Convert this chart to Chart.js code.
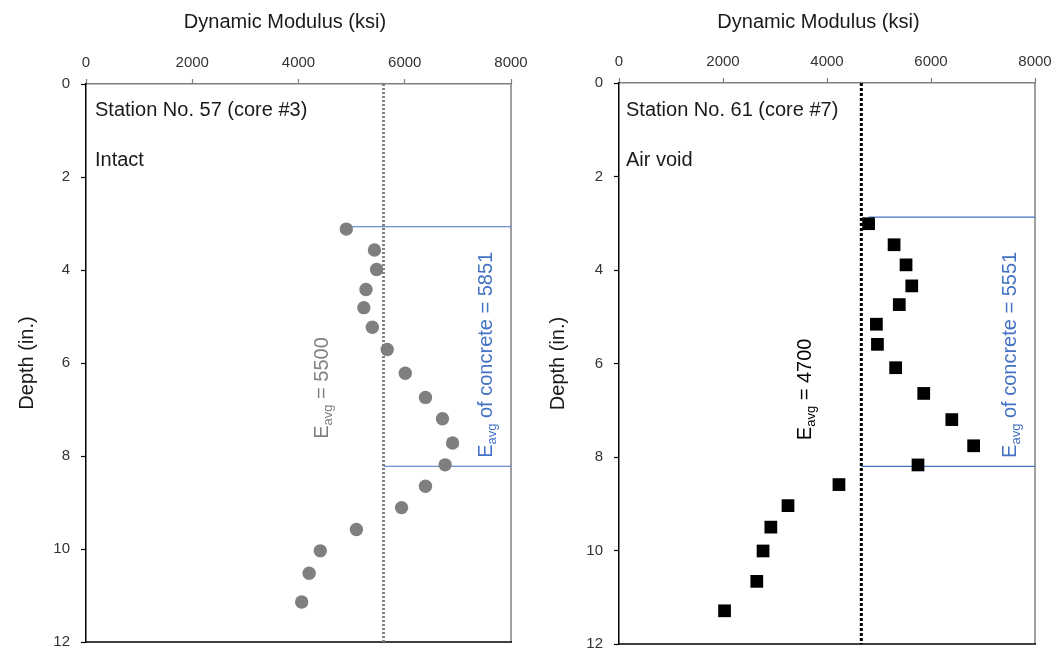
<!DOCTYPE html>
<html>
<head>
<meta charset="utf-8">
<script src="https://cdn.jsdelivr.net/npm/chart.js@4.4.1/dist/chart.umd.min.js"></script>
<style>
html, body { margin: 0; padding: 0; background: #fff; }
#wrap { position: relative; width: 1062px; height: 656px; }
canvas { position: absolute; top: 0; }
#c57 { left: 0; }
#c61 { left: 531px; }
</style>
</head>
<body>
<div id="wrap">
  <canvas id="c57" width="531" height="656"></canvas>
  <canvas id="c61" width="531" height="656"></canvas>
</div>
<script>
// --- data ---
const modulusTicks = [0, 2000, 4000, 6000, 8000];
const depthTicks = [0, 2, 4, 6, 8, 10, 12];

// Station 57 (core #3), intact
const depth57   = [3.12, 3.57, 3.99, 4.42, 4.81, 5.23, 5.71, 6.22, 6.74, 7.20, 7.72, 8.19, 8.65, 9.11, 9.58, 10.04, 10.52, 11.14];
const modulus57 = [4900, 5430, 5470, 5270, 5230, 5390, 5670, 6010, 6390, 6710, 6900, 6760, 6390, 5940, 5090, 4410, 4200, 4060];
const avgLine57 = 5600;
const concreteDepth57 = [3.07, 8.22];
const concreteFrom57  = [4900, 5600];

// Station 61 (core #7), air void
const depth61   = [3.01, 3.46, 3.89, 4.34, 4.74, 5.16, 5.59, 6.09, 6.64, 7.20, 7.76, 8.17, 8.59, 9.04, 9.50, 10.01, 10.66, 11.29];
const modulus61 = [4800, 5290, 5520, 5630, 5390, 4950, 4970, 5320, 5860, 6400, 6820, 5750, 4230, 3250, 2920, 2770, 2650, 2030];
const avgLine61 = 4660;
const concreteDepth61 = [2.87, 8.20];
const concreteFrom61  = [4800, 4660];

const FONT = "'Liberation Sans', Arial, sans-serif";
const BLUE = '#4472c4';
Chart.defaults.font.family = FONT;

// draws "E" + subscript "avg" + rest, rotated to read bottom-to-top
function drawEavg(ctx, x, y, rest, color) {
    ctx.save();
    ctx.translate(x, y);
    ctx.rotate(-Math.PI / 2);
    ctx.fillStyle = color;
    ctx.textAlign = 'left';
    ctx.textBaseline = 'alphabetic';
    ctx.font = '20px ' + FONT;
    ctx.fillText('E', 0, 0);
    let w = ctx.measureText('E').width;
    ctx.font = '13px ' + FONT;
    ctx.fillText('avg', w, 4);
    w += ctx.measureText('avg').width;
    ctx.font = '20px ' + FONT;
    ctx.fillText(rest, w, 0);
    ctx.restore();
}

function makePanel(id, p) {
    const datasets = [
        {
            data: p.modulus.map((v, i) => ({ x: v, y: p.depth[i] })),
            pointStyle: p.marker,
            pointRadius: p.radius,
            backgroundColor: p.markerColor,
            borderWidth: 0,
            order: 0
        },
        {
            type: 'line',
            data: [{ x: p.avg, y: 0 }, { x: p.avg, y: 12 }],
            borderColor: p.avgColor,
            borderWidth: 3,
            borderDash: p.dash,
            borderCapStyle: 'butt',
            pointRadius: 0,
            order: 2
        }
    ];
    p.concreteDepth.forEach(function(d, i) {
        datasets.push({
            type: 'line',
            data: [{ x: p.concreteFrom[i], y: d }, { x: 8000, y: d }],
            borderColor: BLUE,
            borderWidth: 1.2,
            pointRadius: 0,
            order: 1
        });
    });

    const annot = {
        id: 'annot_' + id,
        beforeDatasetsDraw(chart) {
            const ctx = chart.ctx, a = chart.chartArea;
            ctx.save();
            ctx.lineWidth = 1.5;
            ctx.strokeStyle = '#808080';
            ctx.beginPath(); ctx.moveTo(a.right, a.top); ctx.lineTo(a.right, a.bottom); ctx.stroke();
            ctx.strokeStyle = '#000';
            ctx.beginPath(); ctx.moveTo(a.left, a.bottom); ctx.lineTo(a.right + 1, a.bottom); ctx.stroke();
            ctx.restore();
        },
        afterDraw(chart) {
            const ctx = chart.ctx;
            const xs = chart.scales.x, ys = chart.scales.y;
            ctx.save();
            ctx.fillStyle = '#1a1a1a';
            ctx.font = '20px ' + FONT;
            ctx.textAlign = 'center';
            ctx.textBaseline = 'middle';
            ctx.fillText('Dynamic Modulus (ksi)', p.titleX, 22);
            ctx.textAlign = 'left';
            ctx.fillText(p.station, 95, 110);
            ctx.fillText(p.condition, 95, 160);
            ctx.restore();
            drawEavg(ctx, xs.getPixelForValue(p.avgLabelAt[0]), ys.getPixelForValue(p.avgLabelAt[1]),
                     ' = ' + p.avgLabel, p.avgColor);
            drawEavg(ctx, xs.getPixelForValue(p.concLabelAt[0]), ys.getPixelForValue(p.concLabelAt[1]),
                     ' of concrete = ' + p.concLabel, BLUE);
        }
    };

    new Chart(document.getElementById(id), {
        type: 'scatter',
        data: { datasets: datasets },
        plugins: [annot],
        options: {
            responsive: false,
            animation: false,
            layout: { padding: { left: 0, top: 0, right: p.padRight, bottom: p.padBottom } },
            plugins: { legend: { display: false }, tooltip: { enabled: false } },
            scales: {
                x: {
                    type: 'linear',
                    position: 'top',
                    min: 0, max: 8000,
                    afterBuildTicks: s => { s.ticks = modulusTicks.map(v => ({ value: v })); },
                    ticks: { color: '#333', font: { size: 15 }, padding: 7, callback: v => String(v) },
                    grid: { drawOnChartArea: false, tickLength: 5, tickColor: '#7f7f7f', tickWidth: 1.2 },
                    border: { color: '#7f7f7f', width: 1.5 },
                    afterFit: s => { s.height = p.top; s.paddingLeft = 0; s.paddingRight = 0; }
                },
                y: {
                    type: 'linear',
                    reverse: true,
                    min: 0, max: 12,
                    afterBuildTicks: s => { s.ticks = depthTicks.map(v => ({ value: v })); },
                    ticks: { color: '#333', font: { size: 15 }, padding: 11, callback: v => String(v) },
                    grid: { drawOnChartArea: false, tickLength: 5, tickColor: '#000', tickWidth: 1.2 },
                    border: { color: '#000', width: 1.5 },
                    title: { display: true, text: 'Depth (in.)', color: '#1a1a1a', font: { size: 20 }, padding: { top: 15 } },
                    afterFit: s => { s.width = p.left; s.paddingTop = 0; s.paddingBottom = 0; }
                }
            }
        }
    });
}

makePanel('c57', {
    depth: depth57, modulus: modulus57,
    marker: 'circle', radius: 6.7, markerColor: '#7f7f7f',
    avg: avgLine57, avgColor: '#808080', dash: [2, 2],
    concreteDepth: concreteDepth57, concreteFrom: concreteFrom57,
    station: 'Station No. 57 (core #3)', condition: 'Intact',
    avgLabel: '5500', avgLabelAt: [4560, 7.63],
    concLabel: '5851', concLabelAt: [7640, 8.04],
    titleX: 285, left: 86, top: 84, padRight: 20, padBottom: 14
});

makePanel('c61', {
    depth: depth61, modulus: modulus61,
    marker: 'rect', radius: 9, markerColor: '#000',
    avg: avgLine61, avgColor: '#000', dash: [3, 2],
    concreteDepth: concreteDepth61, concreteFrom: concreteFrom61,
    station: 'Station No. 61 (core #7)', condition: 'Air void',
    avgLabel: '4700', avgLabelAt: [3690, 7.64],
    concLabel: '5551', concLabelAt: [7635, 8.02],
    titleX: 287.5, left: 88, top: 83, padRight: 27, padBottom: 12
});
</script>
</body>
</html>
